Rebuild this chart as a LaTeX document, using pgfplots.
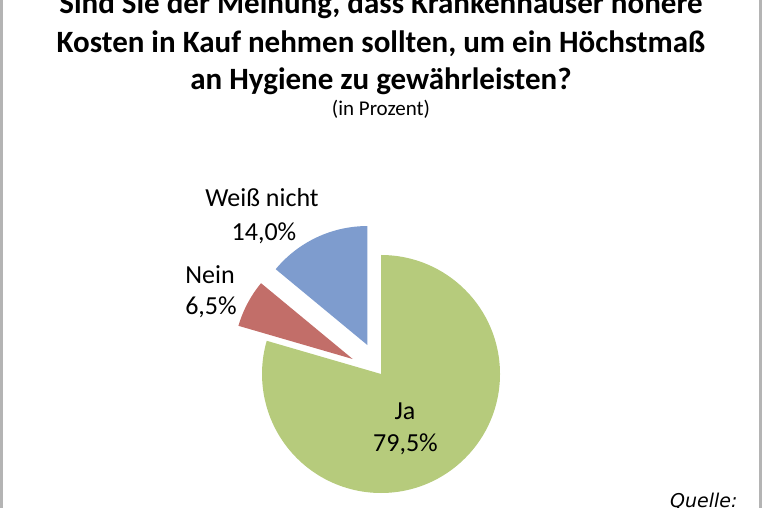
\documentclass[border=0pt]{standalone}
\usepackage{fontspec}
\setmainfont{Carlito}
\newfontfamily\quellefont{DejaVu Sans}
\usepackage{pgfplots}
\pgfplotsset{compat=1.18}
\usepackage{pgfplotstable}

\definecolor{jagreen}{HTML}{B6CB7C}
\definecolor{neinred}{HTML}{C26E69}
\definecolor{wnblue}{HTML}{7E9CCE}
\definecolor{framegray}{HTML}{B4B4B4}

% share of answers, in percent
\pgfplotstableread{
answer share
Ja     79.5
Nein   6.5
Weiss  14.0
}\hygiene

\begin{document}
\begin{tikzpicture}
\path[use as bounding box, clip] (0,0) rectangle (762pt,508pt);

\pgfplotstablegetelem{0}{share}\of\hygiene \let\sJa\pgfplotsretval
\pgfplotstablegetelem{1}{share}\of\hygiene \let\sNein\pgfplotsretval
\pgfplotstablegetelem{2}{share}\of\hygiene \let\sWeiss\pgfplotsretval
% slices start at 12 o'clock and run clockwise
\pgfmathsetmacro{\aA}{90}
\pgfmathsetmacro{\aB}{\aA-3.6*\sJa}
\pgfmathsetmacro{\aC}{\aB-3.6*\sNein}
\pgfmathsetmacro{\aD}{\aC-3.6*\sWeiss}
\pgfmathsetmacro{\mB}{(\aB+\aC)/2}
\pgfmathsetmacro{\mC}{(\aC+\aD)/2}

\begin{axis}[
    at={(0,0)}, anchor=south west,
    scale only axis, width=762pt, height=508pt,
    xmin=0, xmax=762, ymin=0, ymax=508,
    hide axis, clip=false]

% pie, radius 119, two slices pulled out by 32
\fill[jagreen] (381,134) -- ([shift={(\aA:119pt)}]axis cs:381,134)
    arc[start angle=\aA, end angle=\aB, radius=119pt] -- cycle;
\fill[neinred] ([shift={(\mB:32pt)}]axis cs:381,134)
    -- ([shift={(\mB:32pt)},shift={(\aB:119pt)}]axis cs:381,134)
    arc[start angle=\aB, end angle=\aC, radius=119pt] -- cycle;
\fill[wnblue] ([shift={(\mC:32pt)}]axis cs:381,134)
    -- ([shift={(\mC:32pt)},shift={(\aC:119pt)}]axis cs:381,134)
    arc[start angle=\aC, end angle=\aD, radius=119pt] -- cycle;

% data labels
\begin{scope}[every node/.style={inner sep=0pt, anchor=base, font=\fontsize{26}{32}\selectfont}]
\node at (262,301.3) {Weiß nicht};
\node at (264,267) {14,0\%};
\node at (210,224) {Nein};
\node at (211,193) {6,5\%};
\node at (405,88.7) {Ja};
\node at (405.5,56.3) {79,5\%};
\end{scope}

% title
\begin{scope}[every node/.style={inner sep=0pt, anchor=base, font=\fontsize{31}{38}\selectfont\bfseries}]
\node at (381,494) {Sind Sie der Meinung, dass Krankenhäuser höhere};
\node at (381,455.3) {Kosten in Kauf nehmen sollten, um ein Höchstmaß};
\node at (381,418) {an Hygiene zu gewährleisten?};
\end{scope}
\node[inner sep=0pt, anchor=base, font=\fontsize{21}{25}\selectfont] at (381,392) {(in Prozent)};

\node[inner sep=0pt, anchor=base west, font=\fontsize{19}{23}\quellefont\itshape] at (670,0.5) {Quelle:};

% chart frame
\draw[framegray, line width=2.5pt] (1.25,-20) -- (1.25,530);
\draw[framegray, line width=2.5pt] (760.7,-20) -- (760.7,530);
\end{axis}
\end{tikzpicture}
\end{document}
